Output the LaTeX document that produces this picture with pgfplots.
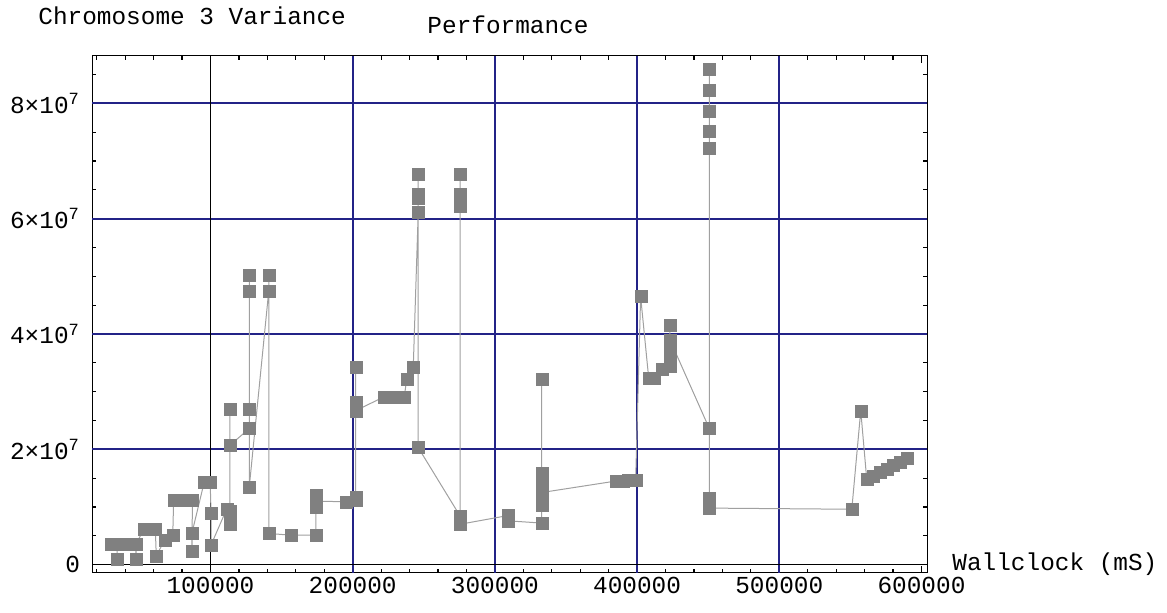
\documentclass[border=0pt]{standalone}
\usepackage{pgfplots}
\pgfplotsset{compat=1.18}
\usepackage{fontspec}
\setmainfont{Liberation Mono}
\definecolor{gridnavy}{RGB}{35,35,135}
\definecolor{markgray}{RGB}{128,128,128}
\definecolor{linegray}{RGB}{160,160,160}
\begin{document}
\begin{tikzpicture}
\useasboundingbox (-46.15pt,-19.75pt) rectangle (537.35pt,286.25pt);
\begin{axis}[
  scale only axis,
  width=417.5pt, height=258.4pt,
  at={(0,0)}, anchor=south west,
  xmin=16900, xmax=604100,
  ymin=-1370000, ymax=88260000,
  clip=false,
  scaled ticks=false,
  axis line style={black, line width=0.75pt},
  tick align=inside,
  major tick length=3.5pt,
  minor tick length=2pt,
  tick style={black, line width=0.6pt},
  xtick={100000,200000,300000,400000,500000,600000},
  xticklabels={100000,200000,300000,400000,500000,600000},
  minor xtick={20000,40000,60000,80000,120000,140000,160000,180000,220000,240000,260000,280000,320000,340000,360000,380000,420000,440000,460000,480000,520000,540000,560000,580000},
  ytick={0,20000000,40000000,60000000,80000000},
  yticklabels={0,2×10\textsuperscript{7},4×10\textsuperscript{7},6×10\textsuperscript{7},8×10\textsuperscript{7}},
  minor ytick={5000000,10000000,15000000,25000000,30000000,35000000,45000000,50000000,55000000,65000000,70000000,75000000,85000000},
  /pgf/number format/assume math mode=true,
  every tick label/.append style={font=\fontsize{12.2pt}{14pt}\selectfont},
  xticklabel style={inner sep=0pt, yshift=-2pt},
  yticklabel style={inner sep=0pt, anchor=east, xshift=-6pt},
]
% grid lines
\foreach \gx in {200000,300000,400000,500000} {
  \edef\temp{\noexpand\draw[gridnavy, line width=0.9pt] ({axis cs:\gx,0} |- {rel axis cs:0,0}) -- ({axis cs:\gx,0} |- {rel axis cs:0,1});}
  \temp
}
\foreach \gy in {20000000,40000000,60000000,80000000} {
  \edef\temp{\noexpand\draw[gridnavy, line width=0.9pt] ({rel axis cs:0,0} |- {axis cs:100000,\gy}) -- ({rel axis cs:1,0} |- {axis cs:100000,\gy});}
  \temp
}
% axes
\draw[black, line width=0.6pt] ({axis cs:100000,0} |- {rel axis cs:0,0}) -- ({axis cs:100000,0} |- {rel axis cs:0,1});
\draw[black, line width=0.6pt] ({rel axis cs:0,0} |- {axis cs:100000,0}) -- ({rel axis cs:1,0} |- {axis cs:100000,0});

\addplot[color=linegray, line width=0.5pt, mark=square*, mark size=3pt,
  mark options={solid, fill=markgray, draw=markgray, line width=0.1pt}]
  coordinates {
(29800,3600000) (34300,3600000) (34300,900000) (34300,3600000) (39000,3600000)
(43000,3600000) (47300,3600000) (47800,900000) (47800,3600000)
(53200,6200000) (57200,6200000) (61200,6200000) (61900,1500000)
(67800,4300000) (73500,5200000) (74100,11200000) (78500,11200000)
(83000,11200000) (87300,11200000) (87000,2400000) (87000,5500000)
(95600,14300000) (99800,14300000) (100400,8900000) (100400,3400000)
(111500,9700000) (113700,7000000) (113700,9300000) (113700,26900000)
(113700,20700000) (127300,23600000) (127300,26900000) (127300,47500000)
(127300,50200000) (127300,13500000) (141000,47500000) (141000,50200000)
(141000,5400000) (156600,5100000) (174200,5100000) (174200,9900000)
(174200,12000000) (174200,11000000) (195200,10900000) (202100,11200000)
(202100,11700000) (202100,34300000) (202100,28100000) (202100,26700000)
(222100,29100000) (226000,29100000) (230000,29100000) (233500,29100000)
(236300,29100000) (238000,32200000) (242600,34200000) (246100,61100000)
(246100,63600000) (246100,64200000) (246100,67700000) (246100,20300000)
(275600,8400000) (275600,67700000) (275600,64200000) (275600,62200000)
(275600,7000000) (309000,8500000) (309000,7600000) (332900,7200000)
(332900,32200000) (332900,15800000) (332900,14100000) (332900,10300000)
(332900,12500000) (385300,14500000) (390000,14500000) (394000,14600000)
(399000,14600000) (402500,46500000) (408200,32300000)
(411900,32300000) (417700,33900000) (423100,34500000) (423100,36500000)
(423100,38500000) (423100,41500000) (423100,39000000) (450800,23600000)
(450800,72300000) (450800,75100000) (450800,78700000) (450800,82300000)
(450800,85900000) (450800,11600000) (450800,9800000) (551000,9600000)
(557300,26700000) (561500,14800000) (566000,15400000) (570800,16000000)
(575800,16600000) (580000,17200000) (584900,17800000) (589700,18400000)
  };
\end{axis}
\node[anchor=base west, inner sep=0pt, font=\fontsize{12.2pt}{14pt}\selectfont] at (-27.15pt,273.75pt) {Chromosome 3 Variance};
\node[anchor=base, inner sep=0pt, font=\fontsize{12.2pt}{14pt}\selectfont] at (207.85pt,269.25pt) {Performance};
\node[anchor=base west, inner sep=0pt, font=\fontsize{12.2pt}{14pt}\selectfont] at (429.85pt,1.25pt) {Wallclock (mS)};
\end{tikzpicture}
\end{document}
